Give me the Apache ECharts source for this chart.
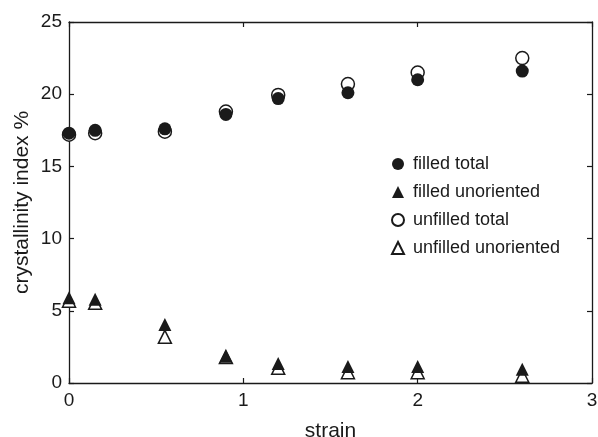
<!DOCTYPE html>
<html><head><meta charset="utf-8">
<script src="https://cdn.jsdelivr.net/npm/echarts@6/dist/echarts.min.js"></script>
<style>html,body{margin:0;padding:0;background:#fff}#c{width:598px;height:437px}</style>
</head><body><div id="c"></div>
<script>
const strain = [0, 0.15, 0.55, 0.9, 1.2, 1.6, 2.0, 2.6];
const filledTotal = [17.3, 17.5, 17.6, 18.6, 19.7, 20.1, 21.0, 21.6];
const unfilledTotal = [17.2, 17.3, 17.4, 18.8, 19.95, 20.7, 21.5, 22.5];
const filledUnoriented = [5.9, 5.8, 4.05, 1.85, 1.35, 1.15, 1.15, 0.95];
const unfilledUnoriented = [5.7, 5.55, 3.2, 1.8, 1.05, 0.75, 0.75, 0.5];
const xTicks = [0, 1, 2, 3];
const yTicks = [0, 5, 10, 15, 20, 25];

const font = 'Liberation Sans, Arial, sans-serif';
const ink = '#1a1a1a';
const pair = (xs, ys) => xs.map((x, i) => [x, ys[i]]);

const chart = echarts.init(document.getElementById('c'), null, {renderer: 'canvas'});
const axisLine = {show: true, onZero: false, lineStyle: {color: ink, width: 1.3}};
const tick = {show: true, inside: true, length: 5, lineStyle: {color: ink, width: 1.2}};
chart.setOption({
  animation: false,
  backgroundColor: '#fff',
  grid: {left: 69, right: 6, top: 22, bottom: 54, containLabel: false, outerBoundsMode: 'none'},
  legend: {
    orient: 'vertical', left: 386, top: 150, itemWidth: 12, itemHeight: 12, itemGap: 10,
    textStyle: {fontFamily: font, fontSize: 18, lineHeight: 18, color: ink, padding: [0, 0, 0, 4]},
    data: [
      {name: 'filled total', icon: 'circle'},
      {name: 'filled unoriented', icon: 'triangle'},
      {name: 'unfilled total', icon: 'circle'},
      {name: 'unfilled unoriented', icon: 'triangle'}
    ]
  },
  xAxis: [{
    type: 'value', min: xTicks[0], max: xTicks[xTicks.length - 1], interval: 1,
    name: 'strain', nameLocation: 'middle', nameGap: 38, nameMoveOverlap: false,
    nameTextStyle: {fontFamily: font, fontSize: 21, color: ink},
    axisLine, axisTick: tick, splitLine: {show: false},
    axisLabel: {fontFamily: font, fontSize: 19, color: ink, margin: 8}
  }, {
    type: 'value', position: 'top', min: 0, max: 3, interval: 1,
    axisLine, axisTick: tick, axisLabel: {show: false}, splitLine: {show: false}
  }],
  yAxis: [{
    type: 'value', min: yTicks[0], max: yTicks[yTicks.length - 1], interval: 5,
    name: 'crystallinity index %', nameLocation: 'middle', nameGap: 36, nameMoveOverlap: false,
    nameTextStyle: {fontFamily: font, fontSize: 21, color: ink},
    axisLine, axisTick: tick, splitLine: {show: false},
    axisLabel: {fontFamily: font, fontSize: 19, color: ink, margin: 7}
  }, {
    type: 'value', position: 'right', min: 0, max: 25, interval: 5,
    axisLine, axisTick: tick, axisLabel: {show: false}, splitLine: {show: false}
  }],
  series: [
    {name: 'unfilled total', type: 'scatter', symbol: 'circle', symbolSize: 13,
     itemStyle: {color: '#fff', borderColor: ink, borderWidth: 1.5, opacity: 1},
     data: pair(strain, unfilledTotal), z: 2},
    {name: 'unfilled unoriented', type: 'scatter', symbol: 'triangle', symbolSize: 13,
     itemStyle: {color: '#fff', borderColor: ink, borderWidth: 1.5, opacity: 1},
     data: pair(strain, unfilledUnoriented), z: 2},
    {name: 'filled total', type: 'scatter', symbol: 'circle', symbolSize: 13,
     itemStyle: {color: ink, opacity: 1},
     data: pair(strain, filledTotal), z: 3},
    {name: 'filled unoriented', type: 'scatter', symbol: 'triangle', symbolSize: 13,
     itemStyle: {color: ink, opacity: 1},
     data: pair(strain, filledUnoriented), z: 3}
  ]
});
</script></body></html>
